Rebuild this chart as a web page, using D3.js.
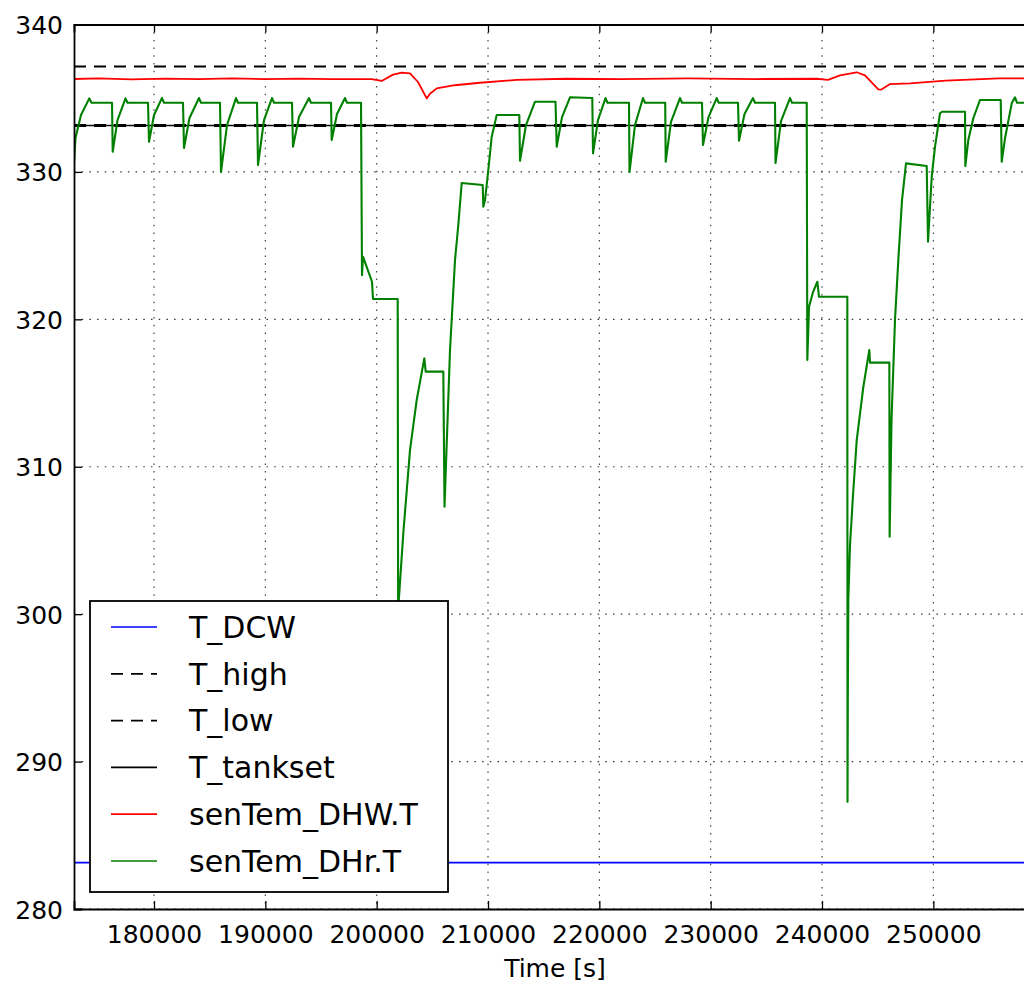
<!DOCTYPE html>
<html>
<head>
<meta charset="utf-8">
<script src="https://cdn.jsdelivr.net/npm/d3@7"></script>
<style>
  html, body { margin: 0; padding: 0; background: #fff; overflow: hidden; }
  svg { display: block; }
  text { font-family: "DejaVu Sans", sans-serif; fill: #000; }
</style>
</head>
<body>
<svg id="chart" width="1024" height="982"></svg>
<script>
// ---------------- data ----------------
const xTicks = [180000, 190000, 200000, 210000, 220000, 230000, 240000, 250000];
const yTicks = [280, 290, 300, 310, 320, 330, 340];
const xDomain = [172814, 259221];
const yDomain = [280, 340];
const xLabel = "Time [s]";

const T_DCW = 283.15;
const T_high = 337.15;
const T_low = 333.15;
const T_tankset = 333.15;

// senTem_DHW.T  [time, value]
const dhwTime = [172700, 175000, 178000, 181000, 184000, 187000, 190000, 193000, 196000, 199554,
  200452, 201467, 202249, 202994, 203713, 204494, 204791, 205393, 207000, 209281, 212578,
  217069, 222000, 228000, 234000, 239523, 240538, 241616, 243116, 243862, 245056, 245300,
  246107, 247900, 251100, 255900, 259300];
const dhwValue = [336.30, 336.34, 336.28, 336.33, 336.29, 336.34, 336.30, 336.33, 336.29, 336.30,
  336.17, 336.60, 336.73, 336.68, 336.10, 334.99, 335.30, 335.67, 335.88, 336.05, 336.24,
  336.32, 336.30, 336.34, 336.30, 336.32, 336.24, 336.55, 336.76, 336.55, 335.60, 335.58,
  335.96, 336.01, 336.19, 336.35, 336.34];

// senTem_DHr.T  [time, value]
const dhrTime = [172770, 172949, 173443, 174189, 174386, 176228, 176290, 176722, 177440, 177620,
  179461, 179551, 180000, 180719, 180898, 182605, 182695, 183189, 184042, 184222,
  185928, 186018, 186557, 187365, 187545, 189251, 189341, 189880, 190599, 190778,
  192395, 192485, 193024, 193922, 194102, 195898, 195961, 196437, 197156, 197335,
  198593, 198683, 198773, 199581, 199671, 201889, 201934, 201988, 202392, 202994,
  203596, 204279, 204405, 205986, 206093, 206587, 207036, 207333, 207638, 209524,
  209578, 209731, 210027, 210333, 210782, 212812, 212874, 213413, 214222, 216063,
  216171, 216647, 217365, 219368, 219431, 219880, 220554, 220733, 222664, 222709,
  223203, 223922, 224101, 225916, 225961, 226437, 227245, 227425, 229221, 229311,
  229805, 230541, 230721, 232455, 232545, 233039, 233803, 233982, 235779, 235824,
  236318, 237127, 237306, 238627, 238681, 238834, 239194, 239580, 239732, 242274,
  242292, 242319, 242364, 242516, 242786, 243118, 243711, 244250, 244314, 246047,
  246074, 246244, 246558, 246854, 247187, 247546, 249405, 249522, 249854, 250151,
  250600, 250780, 252846, 252872, 253142, 253591, 254193, 256052, 256142, 256438,
  257040, 257336, 257516, 259582];
const dhrValue = [329.99, 332.30, 333.86, 334.99, 334.69, 334.69, 331.37, 333.52, 334.99, 334.69,
  334.69, 332.05, 333.86, 335.01, 334.69, 334.69, 331.62, 333.66, 335.01, 334.69,
  334.69, 329.99, 333.18, 335.01, 334.69, 334.69, 330.47, 333.52, 335.01, 334.69,
  334.69, 331.71, 333.72, 335.01, 334.69, 334.69, 332.16, 333.93, 335.01, 334.69,
  334.69, 323.00, 324.25, 322.55, 321.38, 321.38, 296.00, 300.96, 305.50, 311.13,
  314.53, 317.35, 316.45, 316.45, 307.29, 317.92, 324.02, 326.40, 329.25, 329.11,
  327.64, 328.09, 330.13, 332.39, 333.86, 333.86, 330.76, 333.18, 334.76, 334.76,
  331.71, 333.72, 335.06, 335.01, 331.26, 333.52, 335.01, 334.69, 334.69, 329.99,
  333.18, 335.01, 334.69, 334.69, 330.69, 333.39, 335.01, 334.69, 334.69, 331.83,
  333.72, 335.01, 334.69, 334.69, 332.12, 333.93, 335.01, 334.69, 334.69, 330.60,
  333.45, 335.01, 334.69, 334.69, 317.24, 320.86, 321.85, 322.55, 321.53, 321.53,
  287.27, 294.17, 300.96, 304.69, 308.08, 311.81, 315.41, 317.92, 317.06, 317.06,
  305.25, 313.17, 320.00, 324.02, 328.09, 330.58, 330.40, 325.27, 329.67, 331.71,
  333.98, 334.08, 334.08, 330.40, 332.16, 333.64, 334.88, 334.88, 330.69, 332.28,
  334.65, 335.06, 334.69, 334.69];

const legendNames = ["T_DCW", "T_high", "T_low", "T_tankset", "senTem_DHW.T", "senTem_DHr.T"];
const legendColors = ["#0000ff", "#000000", "#000000", "#000000", "#ff0000", "#008000"];
const legendDash = [null, "12,8", "12,8", null, null, null];

// ---------------- layout ----------------
const svg = d3.select("#chart");
const plot = { left: 74, right: 1036, top: 24.5, bottom: 909 };

const x = d3.scaleLinear().domain(xDomain).range([plot.left, plot.right]);
const y = d3.scaleLinear().domain(yDomain).range([plot.bottom, plot.top]);

svg.append("defs").append("clipPath").attr("id", "clip")
  .append("rect").attr("x", plot.left).attr("y", plot.top)
  .attr("width", plot.right - plot.left).attr("height", plot.bottom - plot.top);

// grid
const grid = svg.append("g");
grid.selectAll(".gx").data(xTicks).enter().append("line")
  .attr("x1", d => x(d)).attr("x2", d => x(d))
  .attr("y1", plot.top).attr("y2", plot.bottom)
  .attr("stroke", "#333").attr("stroke-width", 1.1).attr("stroke-dasharray", "1.5,6.2");
grid.selectAll(".gy").data(yTicks).enter().append("line")
  .attr("x1", plot.left).attr("x2", plot.right)
  .attr("y1", d => y(d)).attr("y2", d => y(d))
  .attr("stroke", "#333").attr("stroke-width", 1.1).attr("stroke-dasharray", "1.5,6.2");

// series
const g = svg.append("g").attr("clip-path", "url(#clip)");
const line = d3.line().x(d => x(d[0])).y(d => y(d[1]));

function hline(val, color, dash, w) {
  g.append("path")
    .datum([[xDomain[0], val], [xDomain[1], val]])
    .attr("d", line).attr("fill", "none")
    .attr("stroke", color).attr("stroke-width", w)
    .attr("stroke-dasharray", dash);
}
hline(T_DCW, "#0000ff", null, 1.7);
hline(T_high, "#000", "12,8", 2);
hline(T_low, "#000", "12,8", 2.8);
hline(T_tankset, "#000", null, 1.7);

const dhw = dhwTime.map((t, i) => [t, dhwValue[i]]);
g.append("path").datum(dhw).attr("d", line).attr("fill", "none")
  .attr("stroke", "#ff0000").attr("stroke-width", 1.8).attr("stroke-linejoin", "round");

const dhr = dhrTime.map((t, i) => [t, dhrValue[i]]);
g.append("path").datum(dhr).attr("d", line).attr("fill", "none")
  .attr("stroke", "#008000").attr("stroke-width", 2.1).attr("stroke-linejoin", "round");

// axes
const xAxisB = d3.axisBottom(x).tickValues(xTicks).tickSize(-8).tickPadding(16).tickFormat(d3.format("d"));
const gxB = svg.append("g").attr("transform", `translate(0,${plot.bottom})`).call(xAxisB);
const xAxisT = d3.axisTop(x).tickValues(xTicks).tickSize(-8).tickFormat("");
const gxT = svg.append("g").attr("transform", `translate(0,${plot.top})`).call(xAxisT);
const yAxisL = d3.axisLeft(y).tickValues(yTicks).tickSize(-8).tickPadding(11).tickFormat(d3.format("d"));
const gyL = svg.append("g").attr("transform", `translate(${plot.left},0)`).call(yAxisL);

[gxB, gxT, gyL].forEach(a => {
  a.select(".domain").attr("stroke", "#000").attr("stroke-width", 1.8);
  a.selectAll(".tick line").attr("stroke", "#000").attr("stroke-width", 1.3);
  a.selectAll("text").style("font-family", "'DejaVu Sans', sans-serif").style("font-size", "25px").attr("fill", "#000");
});
gyL.selectAll("text").attr("dy", "0.36em");

svg.append("text").attr("x", (plot.left + plot.right) / 2).attr("y", 977)
  .attr("text-anchor", "middle").style("font-size", "25px").text(xLabel);

// legend
const lg = svg.append("g");
lg.append("rect").attr("x", 90).attr("y", 601).attr("width", 358).attr("height", 291)
  .attr("fill", "#fff").attr("stroke", "#000").attr("stroke-width", 1.8);
const rowY = d3.scaleLinear().domain([0, legendNames.length - 1]).range([627, 861]);
legendNames.forEach((name, i) => {
  lg.append("line").attr("x1", 111).attr("x2", 157).attr("y1", rowY(i)).attr("y2", rowY(i))
    .attr("stroke", legendColors[i]).attr("stroke-width", 1.7)
    .attr("stroke-dasharray", legendDash[i]);
  lg.append("text").attr("x", 189).attr("y", rowY(i)).attr("dy", "0.36em")
    .style("font-size", "30px").text(name);
});
</script>
</body>
</html>
